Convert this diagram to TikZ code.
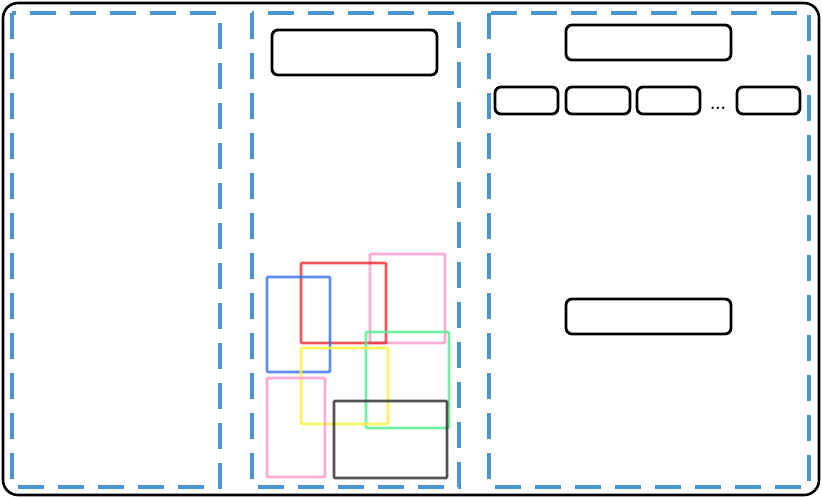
\documentclass[tikz,border=0pt]{standalone}
\begin{document}
\begin{tikzpicture}[x=1pt,y=-1pt,
  panel/.style={draw=dashblue,line width=3.4pt,dash pattern=on 26pt off 14pt},
  rbox/.style={draw=black,line width=2.8pt,rounded corners=6pt,inner sep=0pt,outer sep=0pt},
  crect/.style={line width=2.8pt,opacity=0.8,rounded corners=1pt}]
\definecolor{dashblue}{RGB}{74,150,208}
\definecolor{cred}{RGB}{240,40,50}
\definecolor{cblue}{RGB}{50,110,230}
\definecolor{cpink}{RGB}{255,150,200}
\definecolor{cgreen}{RGB}{80,235,140}
\definecolor{cyellow}{RGB}{255,240,50}
\definecolor{cblack}{RGB}{40,40,40}
\useasboundingbox (0,0) rectangle (822,498);
% outer frame
\draw[line width=2.6pt,rounded corners=15pt] (3,3) rectangle (819,495);
% dashed panels
\draw[panel] (12,13) rectangle (220,487);
\draw[panel] (252,13) rectangle (459,487);
\draw[panel] (489,13) rectangle (809,487);
% middle panel box
\node[rbox,minimum width=165pt,minimum height=45pt] (mtop) at (354.5,52.5) {};
% right panel boxes
\node[rbox,minimum width=165pt,minimum height=35pt] (rtop) at (648.5,42.5) {};
\node[rbox,minimum width=63pt,minimum height=27pt] (s1) at (526.5,100.5) {};
\node[rbox,minimum width=64pt,minimum height=27pt] (s2) at (598,100.5) {};
\node[rbox,minimum width=63pt,minimum height=27pt] (s3) at (668.5,100.5) {};
\node[inner sep=0pt,font=\fontsize{17}{17}\selectfont\bfseries] (dots) at (718,108) {...};
\node[rbox,minimum width=63pt,minimum height=27pt] (s4) at (768.5,100.5) {};
\node[rbox,minimum width=165pt,minimum height=35pt] (rbot) at (648.5,316.5) {};
% coloured rectangles
\draw[crect,draw=cpink] (370,254) rectangle (445,343);
\draw[crect,draw=cred] (301,263) rectangle (386,343);
\draw[crect,draw=cblue] (267,277) rectangle (330,372);
\draw[crect,draw=cgreen] (366,332) rectangle (449,428);
\draw[crect,draw=cyellow] (301,348) rectangle (388,424);
\draw[crect,draw=cpink] (267,378) rectangle (325,477);
\draw[crect,draw=cblack] (334,401) rectangle (447,478);
\end{tikzpicture}
\end{document}
